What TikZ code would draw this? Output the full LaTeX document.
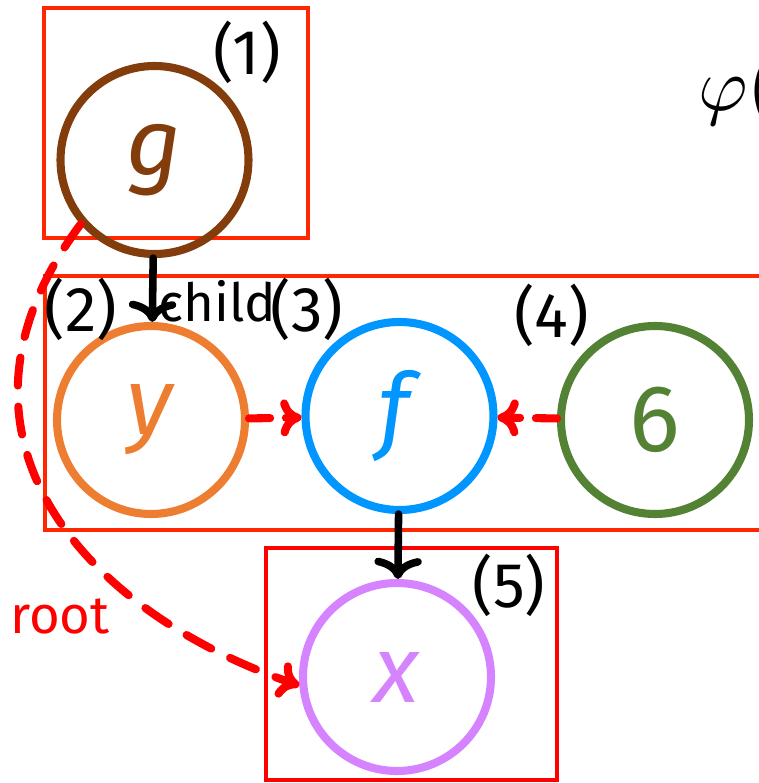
\documentclass[tikz,border=0pt]{standalone}
\usepackage{fontspec}
\setmainfont{Fira Sans}
\usetikzlibrary{arrows.meta}
\definecolor{boxred}{RGB}{255,38,0}
\definecolor{gbrown}{RGB}{131,60,11}
\definecolor{yorange}{RGB}{237,125,49}
\definecolor{fblue}{RGB}{0,150,255}
\definecolor{sixgreen}{RGB}{84,130,53}
\definecolor{xviolet}{RGB}{214,131,255}

\begin{document}
\begin{tikzpicture}[line cap=round,line join=round,x=1cm,y=1cm,
  vertex/.style={circle,draw,line width=4.6pt,minimum size=3.76cm,inner sep=0pt,font=\fontsize{54}{60}\selectfont},
  numlabel/.style={font=\fontsize{36}{40}\selectfont},
  groupbox/.style={draw=boxred,line width=2.2pt,line cap=butt,line join=miter},
  childarrow/.style={line width=4.3pt,-{To[length=12pt,width=27pt]}},
  linkarrow/.style={red,line width=4.6pt,dash pattern=on 12pt off 9pt,-{To[length=12pt,width=21pt]}}]
\useasboundingbox (0,0) rectangle (15.18,15.66);
\clip (0,0) rectangle (15.18,15.66);
% groups
\draw[groupbox] (0.88,15.50) rectangle (6.16,10.90);
\draw[groupbox] (0.90,10.14) rectangle (16.40,5.06);
\draw[groupbox,draw=red] (5.32,4.70) rectangle (11.14,0.06);
% nodes
\node[vertex,draw=gbrown,text=gbrown] (g) at (3.09,12.46) {\textit{g}};
\node[vertex,draw=yorange,text=yorange] (y) at (3.02,7.26) {\textit{y}};
\node[vertex,draw=fblue,text=fblue] (f) at (7.99,7.34) {\textit{f}};
\node[vertex,draw=sixgreen,text=sixgreen] (six) at (13.10,7.26) {6};
\node[vertex,draw=xviolet,text=xviolet] (x) at (7.94,2.12) {\textit{x}};
% numbers
\node[numlabel] (n1) at (4.94,14.62) {(1)};
\node[numlabel] (n2) at (1.62,9.48) {(2)};
\node[numlabel] (n3) at (6.14,9.48) {(3)};
\node[numlabel] (n4) at (11.04,9.36) {(4)};
\node[numlabel] (n5) at (10.18,3.96) {(5)};
\node[font=\fontsize{30}{34}\selectfont,anchor=base] (childtxt) at (4.35,9.22) {child};
\node[font=\fontsize{30}{34}\selectfont,text=red,anchor=base] (roottxt) at (1.20,3.00) {root};
\node[scale=4.3,anchor=base west,inner sep=0pt] (phi) at (13.94,13.44) {$\varphi($};
% edges
\draw[childarrow] (g) -- (y);
\draw[childarrow] (f) -- (x);
\draw[linkarrow] (y) -- (f);
\draw[linkarrow] (six) -- (f);
\draw[red,line width=4.6pt,dash pattern=on 16pt off 12pt,-{To[length=12pt,width=21pt]}] (g.221) .. controls (-1.48,7.02) and (1.60,3.46) .. (x.185);
\end{tikzpicture}
\end{document}
